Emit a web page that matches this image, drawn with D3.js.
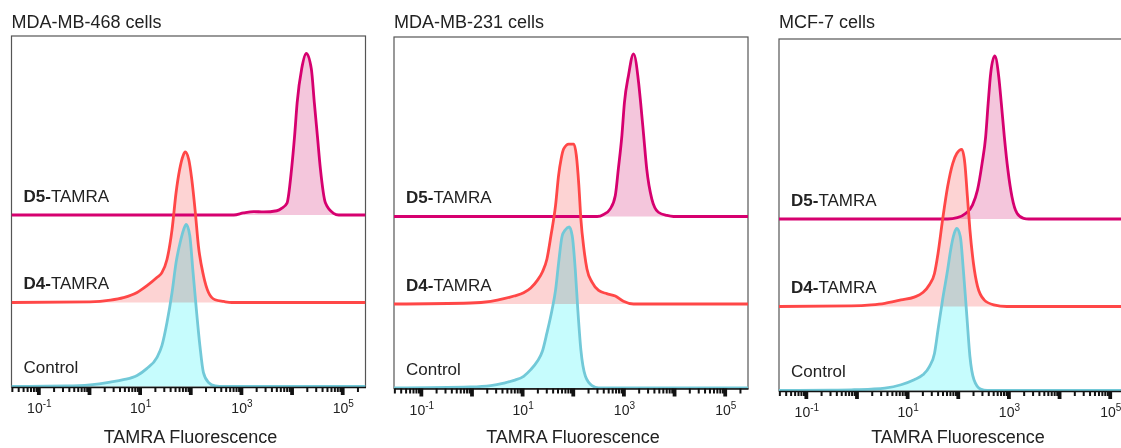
<!DOCTYPE html>
<html>
<head>
<meta charset="utf-8">
<script src="https://cdn.jsdelivr.net/npm/d3@7"></script>
<style>
  body { margin: 0; background: #fff; }
  text { font-family: "Liberation Sans", Arial, Helvetica, sans-serif; fill: #222; }
</style>
</head>
<body>
<script>
// DATA
// ------------------------------------------------------------------
// [log10 fluorescence, normalized count]

var panelTitles = ["MDA-MB-468 cells", "MDA-MB-231 cells", "MCF-7 cells"];
var laneNames = [["D5", "-TAMRA"], ["D4", "-TAMRA"], ["", "Control"]];
var tickExps = [-1, 1, 3, 5];

var mb468D5 = [[-1.53,0],[2.86,0],[3.05,1.2],[3.25,2],[3.45,1.8],[3.71,2.5],[3.81,4],[3.91,7],
  [4.00,27],[4.06,46.5],[4.11,66],[4.20,86],[4.29,95],[4.39,86],[4.45,66],[4.51,46.5],
  [4.57,27],[4.67,7],[4.83,1],[4.93,0],[5.46,0]];
var mb468D4 = [[-1.53,0],[0.02,0.4],[0.42,1.4],[0.68,2.9],[0.95,5.9],[1.14,9.8],[1.34,14.7],
  [1.44,17.6],[1.54,25.3],[1.64,42.9],[1.72,64.7],[1.79,78.2],[1.86,86.5],[1.90,88.6],
  [1.97,84.1],[2.03,72.4],[2.10,52.9],[2.16,33.5],[2.26,15.9],[2.36,5.9],[2.49,1.6],
  [2.66,0.6],[2.82,0],[5.46,0]];
var mb468Ctrl = [[-1.53,0],[-0.44,0.3],[0.02,1],[0.42,2.6],[0.68,4],[0.95,6.5],[1.14,10.5],
  [1.34,17],[1.44,24],[1.54,37.6],[1.64,55.3],[1.72,73],[1.80,84.7],[1.87,92.4],[1.92,95.3],
  [1.99,88.8],[2.05,68.8],[2.12,45.3],[2.19,24],[2.26,8.2],[2.36,2.4],[2.49,0.4],[2.66,0],[5.46,0]];

var mb231D5 = [[-1.53,0],[2.48,0],[2.61,1.2],[2.74,4.5],[2.84,12.4],[2.90,28],[2.97,47.6],
  [3.02,67],[3.10,83],[3.20,95.7],[3.30,78.8],[3.34,67],[3.40,47.6],[3.46,28],[3.56,10.4],
  [3.69,2.5],[3.86,0.6],[3.99,0],[5.46,0]];
var mb231D4 = [[-1.53,0],[-0.02,0.6],[0.38,1.6],[0.64,3.1],[0.84,4.7],[1.03,6.6],[1.17,9.4],
  [1.30,13.9],[1.40,18.8],[1.49,26.5],[1.57,40.4],[1.66,58],[1.72,75.7],[1.77,85.3],[1.82,91.2],
  [1.92,94.1],[2.02,94.1],[2.07,87.5],[2.12,69.8],[2.16,50],[2.22,32.4],[2.28,20.6],[2.38,12.9],
  [2.51,8],[2.67,6.1],[2.84,4.7],[3.00,1.6],[3.20,0],[5.46,0]];
var mb231Ctrl = [[-1.53,0],[-0.02,0.6],[0.38,1.4],[0.64,2.9],[0.84,4.5],[1.03,6.9],[1.17,10.8],
  [1.30,15.7],[1.40,21.6],[1.49,32.4],[1.59,45.9],[1.66,57.6],[1.72,73.5],[1.79,89.4],
  [1.85,92.9],[1.93,94.7],[1.99,89.4],[2.05,69.4],[2.10,45.9],[2.16,22.4],[2.25,6.9],
  [2.38,1.4],[2.51,0],[5.46,0]];

var mcf7D5 = [[-1.53,0],[1.80,0],[1.99,0.8],[2.16,3.4],[2.29,8.2],[2.39,17.1],[2.48,32.7],
  [2.55,48.2],[2.60,68],[2.65,85.7],[2.73,95.9],[2.81,83.5],[2.86,68],[2.92,48.2],[2.99,28.8],
  [3.07,13.1],[3.17,3.4],[3.30,0.4],[3.40,0],[5.46,0]];
var mcf7D4 = [[-1.53,0],[-0.10,0.4],[0.29,1],[0.56,1.9],[0.88,3.9],[1.14,5.5],[1.31,8.2],
  [1.44,12.8],[1.54,19.4],[1.61,31.2],[1.70,51],[1.80,70.6],[1.90,84.1],[1.98,90],[2.08,92.4],
  [2.14,84.1],[2.19,64.7],[2.24,45.1],[2.31,25.3],[2.39,11.8],[2.52,3.9],[2.71,1],[2.97,0],[5.46,0]];
var mcf7Ctrl = [[-1.53,0],[-0.5,0.2],[-0.10,0.4],[0.29,0.8],[0.56,1.4],[0.88,3.4],[1.14,6.3],
  [1.31,9.2],[1.44,14.1],[1.54,21.8],[1.61,35.7],[1.70,53.4],[1.80,71],[1.86,82.8],[1.93,92.4],
  [1.98,95.3],[2.05,90.6],[2.11,71],[2.18,43.5],[2.24,20],[2.32,6.3],[2.45,0.8],[2.58,0],[5.46,0]];

var panelSeries = [
  [mb468D5, mb468D4, mb468Ctrl],
  [mb231D5, mb231D4, mb231Ctrl],
  [mcf7D5, mcf7D4, mcf7Ctrl]
];

// CANVAS
// ------------------------------------------------------------------

var width = 1121,
    height = 448;

var svg = d3.select("body")
    .append("svg")
    .attr("width", width)
    .attr("height", height);

var panelW = 354,
    panelLefts = [11.5, 394, 779],
    panelTops = [36, 37, 39],
    panelBottoms = [387, 388.5, 391],
    laneOffsets = [172, 84.5, 0.5],
    laneHeight = 170;

var lineColors = ["#d6006f", "#ff4747", "#72c9d8"],
    fillColors = ["#f4c6dc", "#fdd3d3", "#c6fcfd"];

// SCALES
// ------------------------------------------------------------------

var xMin = Math.pow(10, -1.53),
    xMax = Math.pow(10, 5.46);

var xScale = d3.scaleLog()
    .domain([xMin, xMax])
    .range([0, panelW]);

var yScale = d3.scaleLinear()
    .domain([0, 100])
    .range([0, -laneHeight]);

var allTicks = xScale.ticks(10),
    majorTicks = allTicks.filter(function(d) {
      return Math.abs(Math.log10(d) - Math.round(Math.log10(d))) < 1e-9;
    }),
    minorTicks = allTicks.filter(function(d) { return majorTicks.indexOf(d) < 0; });

var area = d3.area()
    .x(function(d) { return xScale(Math.pow(10, d[0])); })
    .y0(0)
    .y1(function(d) { return yScale(d[1]); })
    .curve(d3.curveMonotoneX);

var line = d3.line()
    .x(function(d) { return xScale(Math.pow(10, d[0])); })
    .y(function(d) { return yScale(d[1]); })
    .curve(d3.curveMonotoneX);

// PANELS
// ------------------------------------------------------------------

panelTitles.forEach(function(title, p) {
  var left = panelLefts[p],
      top = panelTops[p],
      bottom = panelBottoms[p];

  var g = svg.append("g")
      .attr("transform", "translate(" + left + ",0)");

  g.append("clipPath")
      .attr("id", "clip" + p)
    .append("rect")
      .attr("x", 0)
      .attr("y", top)
      .attr("width", panelW)
      .attr("height", bottom - top);

  // title
  g.append("text")
      .attr("x", 0)
      .attr("y", 28)
      .style("font-size", "18px")
      .text(title);

  // frame
  g.append("rect")
      .attr("x", 0)
      .attr("y", top)
      .attr("width", panelW)
      .attr("height", bottom - top)
      .attr("fill", "none")
      .attr("stroke", "#555")
      .attr("stroke-width", 1.2);

  var plot = g.append("g").attr("clip-path", "url(#clip" + p + ")");

  // fills first, multiplied so overlaps darken like the original
  panelSeries[p].forEach(function(series, i) {
    plot.append("path")
        .attr("transform", "translate(0," + (bottom - laneOffsets[i]) + ")")
        .attr("d", area(series))
        .attr("fill", fillColors[i])
        .style("mix-blend-mode", "multiply");
  });

  panelSeries[p].forEach(function(series, i) {
    plot.append("path")
        .attr("transform", "translate(0," + (bottom - laneOffsets[i]) + ")")
        .attr("d", line(series))
        .attr("fill", "none")
        .attr("stroke", lineColors[i])
        .attr("stroke-width", 2.8)
        .attr("stroke-linejoin", "round");
  });

  // lane labels
  laneNames.forEach(function(name, i) {
    var t = g.append("text")
        .attr("x", 12)
        .attr("y", bottom - laneOffsets[i] - 13.5)
        .style("font-size", "17px");
    if (name[0]) t.append("tspan").style("font-weight", "bold").text(name[0] + "-");
    t.append("tspan").text(name[0] ? name[1].slice(1) : name[1]);
  });

  // AXIS
  var minorAxis = d3.axisBottom(xScale)
      .tickValues(minorTicks)
      .tickSize(5)
      .tickSizeOuter(0)
      .tickFormat("");
  var majorAxis = d3.axisBottom(xScale)
      .tickValues(majorTicks)
      .tickSize(8)
      .tickSizeOuter(0)
      .tickFormat("");

  var ax1 = g.append("g")
      .attr("transform", "translate(0," + bottom + ")")
      .call(minorAxis);
  ax1.selectAll(".tick line").attr("stroke", "#111").attr("stroke-width", 2);
  ax1.select(".domain").attr("stroke", "#111").attr("stroke-width", 1.5);

  var ax2 = g.append("g")
      .attr("transform", "translate(0," + bottom + ")")
      .call(majorAxis);
  ax2.selectAll(".tick line").attr("stroke", "#111").attr("stroke-width", 3.8);
  ax2.select(".domain").remove();

  // tick labels 10^n
  tickExps.forEach(function(e) {
    var t = g.append("text")
        .attr("x", xScale(Math.pow(10, e)) + 1)
        .attr("y", bottom + 26)
        .style("text-anchor", "middle")
        .style("font-size", "14px");
    t.append("tspan").text("10");
    t.append("tspan")
        .attr("dy", -6)
        .style("font-size", "10px")
        .text(e);
  });

  // axis title
  g.append("text")
      .attr("x", panelW / 2 + 2)
      .attr("y", Math.min(bottom + 57, 443))
      .style("text-anchor", "middle")
      .style("font-size", "18px")
      .text("TAMRA Fluorescence");
});
</script>
</body>
</html>
